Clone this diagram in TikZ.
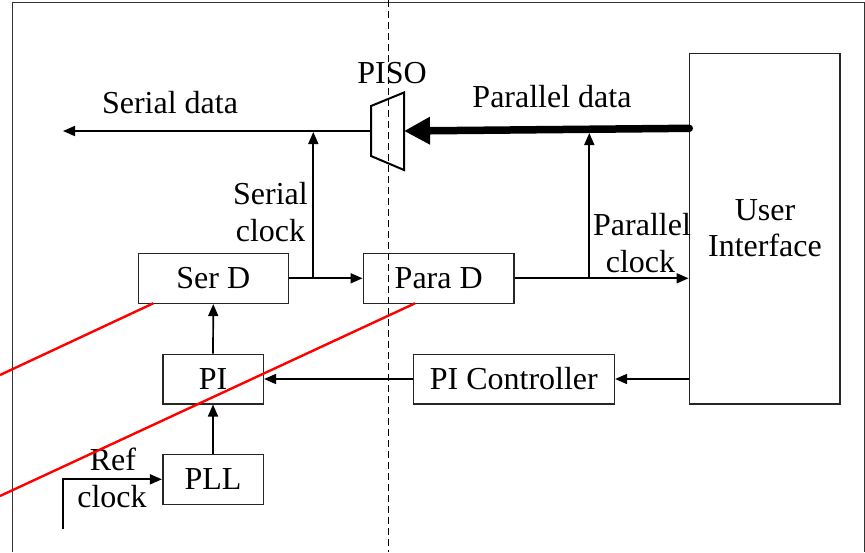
\documentclass[tikz,border=0pt]{standalone}
\usepackage{fontspec}
\setmainfont{Liberation Serif}
\usetikzlibrary{arrows.meta}
\begin{document}
\begin{tikzpicture}[x=1pt,y=-1pt,
  font=\fontsize{32}{37}\selectfont,
  block/.style={draw=black!85,line width=1.6pt,inner sep=0pt,minimum height=50pt},
  lbl/.style={anchor=base,inner sep=0pt},
  sig/.style={line width=1.7pt,-{Triangle[length=12pt,width=10pt]}},
  redline/.style={red,line width=2.4pt},
  frame/.style={black!80,line width=1.4pt}]
\useasboundingbox (0,0) rectangle (865,552);

% outer frame and the dashed boundary
\coordinate (fbl) at (12.7,552);
\coordinate (ftl) at (12.7,2.7);
\coordinate (ftr) at (864.2,2.7);
\coordinate (fbr) at (864.2,552);
\draw[frame] (fbl) -- (ftl) -- (ftr) -- (fbr);
\coordinate (dtop) at (388.7,0);
\coordinate (dbot) at (388.7,552);
\draw[line width=1.3pt,dash pattern=on 7pt off 4pt] (dtop) -- (dbot);

% blocks
\node[block,minimum width=150pt] (serd) at (213.3,278.3) {Ser D};
\node[block,minimum width=150.7pt] (parad) at (438.7,278.3) {Para D};
\node[block,minimum width=100.6pt,minimum height=49.4pt] (pi) at (213,379) {PI};
\node[block,minimum width=100.6pt] (pll) at (213,479.3) {PLL};
\node[block,minimum width=201pt,minimum height=49.4pt] (pictl) at (513.8,379) {PI Controller};
\node[block,minimum width=150.7pt,minimum height=350.4pt] (ui) at (764.7,228.5) {};
\node[lbl] (uiA) at (765,220.7) {User};
\node[lbl] (uiB) at (765,256.7) {Interface};

% PISO multiplexer
\coordinate (pisoTL) at (371,106);
\coordinate (pisoTR) at (404,92.5);
\coordinate (pisoBR) at (404,170);
\coordinate (pisoBL) at (371,156);
\draw[line width=2pt,line join=miter] (pisoTL) -- (pisoTR) -- (pisoBR) -- (pisoBL) -- cycle;
\node[lbl] (pisoL) at (392,83) {PISO};
\coordinate (pisoIn) at (404,131);
\coordinate (pisoOut) at (371,131);

% serial data output
\coordinate (sdout) at (63,131);
\draw[sig] (pisoOut) -- (sdout);
\node[lbl] (sdL) at (170,113) {Serial data};

% parallel data bus
\coordinate (pdin) at (689.3,128.3);
\draw[line width=7.5pt,line cap=round,-{Triangle[length=26pt,width=26pt]}] (pdin) -- (pisoIn);
\node[lbl] (pdL) at (552,107) {Parallel data};

% clock paths
\coordinate (scbr) at (313.3,278.3);
\coordinate (sctop) at (313.3,132);
\draw[line width=1.7pt] (serd.east) -- (scbr);
\draw[sig] (scbr) -- (parad.west);
\draw[sig] (scbr) -- (sctop);
\node[lbl] (scA) at (270.5,204) {Serial};
\node[lbl] (scB) at (270.5,241.7) {clock};

\coordinate (pcbr) at (589.3,278.3);
\coordinate (pctop) at (589.3,133);
\draw[line width=1.7pt] (parad.east) -- (pcbr);
\draw[sig] (pcbr) -- (ui.west |- pcbr);
\draw[sig] (pcbr) -- (pctop);
\node[lbl] (pcA) at (642,235) {Parallel};
\node[lbl] (pcB) at (640.5,272) {clock};

% phase interpolator control
\draw[sig] (pi.north) -- (serd.south);
\draw[sig] (pll.north) -- (pi.south);
\draw[sig] (pictl.west) -- (pi.east);
\draw[sig] (ui.west |- pictl.east) -- (pictl.east);

% reference clock input
\coordinate (rc) at (62.7,529.3);
\draw[sig] (rc) |- (pll.west);
\node[lbl] (rcA) at (113,470) {Ref};
\node[lbl] (rcB) at (112,507.7) {clock};

% red boundary lines
\coordinate (r1a) at (0,375);
\coordinate (r1b) at (153.3,303.3);
\coordinate (r2a) at (0,496);
\coordinate (r2b) at (415,303.3);
\draw[redline] (r1a) -- (r1b);
\draw[redline] (r2a) -- (r2b);
\end{tikzpicture}
\end{document}
